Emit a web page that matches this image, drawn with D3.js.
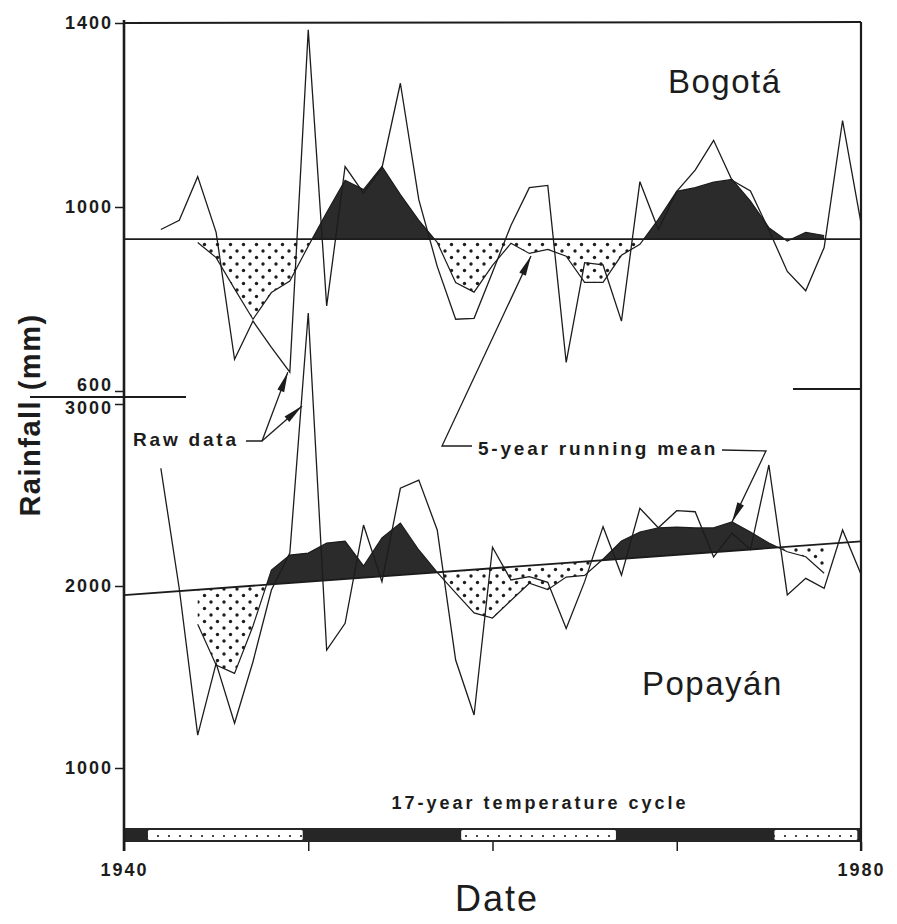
<!DOCTYPE html>
<html>
<head>
<meta charset="utf-8">
<script src="https://cdn.jsdelivr.net/npm/d3@7"></script>
<style>
  body { margin: 0; background: #fff; }
  text { font-family: "Liberation Sans", Arial, sans-serif; fill: #1c1c1c; }
</style>
</head>
<body>
<script>
// annual rainfall (mm)
const rawYears = d3.range(1942, 1981)
const meanYears = d3.range(1944, 1979)

const bogotaRaw = [951, 971, 1066, 945, 669, 752, 695, 641, 1385, 785,
  1088, 1030, 1085, 1269, 1016, 871, 756, 758, 858, 960,
  1042, 1047, 662, 879, 874, 752, 1055, 951, 1034, 1080,
  1145, 1058, 1035, 950, 860, 818, 912, 1188, 965]
const bogotaMean = [923, 890, 822, 756, 814, 839, 915, 988, 1058, 1038,
  1088, 1027, 971, 923, 836, 815, 873, 921, 899, 908,
  893, 836, 836, 895, 919, 973, 1034, 1042, 1054, 1060,
  1013, 955, 926, 945, 938]
const bogotaAverage = 930

const popayanRaw = [2647, 1985, 1181, 1575, 1246, 1584, 1978, 2181, 3500, 1648,
  1795, 2335, 2024, 2537, 2582, 2308, 1593, 1291, 2213, 2033,
  2051, 2020, 1767, 2024, 2326, 2060, 2427, 2320, 2414, 2408,
  2160, 2290, 2200, 2665, 1951, 2042, 1987, 2308, 2065]
const popayanMean = [1790, 1566, 1520, 1780, 2088, 2170, 2181, 2236, 2247, 2110,
  2264, 2346, 2198, 2075, 1962, 1852, 1824, 1920, 2015, 1980,
  2049, 2058, 2148, 2247, 2297, 2319, 2324, 2319, 2319, 2352,
  2297, 2236, 2188, 2161, 2070]
const popayanTrend = [1950, 2245]   // trend value at 1940 and 1980

// warm halves of the 17-year temperature cycle (start year)
const warmStarts = [1941.3, 1958.3, 1975.3]
const warmLength = 8.4

const bogotaTicks = [600, 1000, 1400]
const popayanTicks = [1000, 2000, 3000]
const yearTicks = [1940, 1950, 1960, 1970, 1980]

const width = 897, height = 924
const ink = '#1c1c1c'

const x = d3.scaleLinear().domain([1940, 1980]).range([124, 861])
const yB = d3.scaleLinear().domain([600, 1400]).range([391, 23])
const yP = d3.scaleLinear().domain([1000, 3000]).range([768, 404])
const trend = d3.scaleLinear().domain([1940, 1980]).range(popayanTrend)

const svg = d3.select('body').append('svg')
    .attr('width', width)
    .attr('height', height)
const defs = svg.append('defs')

// dotted fill for below-average years
const dots = defs.append('pattern')
    .attr('id', 'dots')
    .attr('patternUnits', 'userSpaceOnUse')
    .attr('width', 13).attr('height', 13)
dots.append('rect').attr('width', 13).attr('height', 13).attr('fill', '#fff')
dots.append('circle').attr('cx', 3).attr('cy', 4).attr('r', 1.7).attr('fill', ink)
dots.append('circle').attr('cx', 9.5).attr('cy', 10.5).attr('r', 1.7).attr('fill', ink)

const fine = defs.append('pattern')
    .attr('id', 'fine')
    .attr('patternUnits', 'userSpaceOnUse')
    .attr('width', 11).attr('height', 10)
fine.append('rect').attr('width', 11).attr('height', 10).attr('fill', '#fff')
fine.append('circle').attr('cx', 4).attr('cy', 6).attr('r', 1.1).attr('fill', ink)

function clip(id, pts) {
  defs.append('clipPath').attr('id', id)
    .append('polygon')
    .attr('points', pts.map(p => p.join(',')).join(' '))
}

function panel(raw, mean, base, y, top, bottom, id) {
  const g = svg.append('g')
  const x0 = x.range()[0], x1 = x.range()[1]
  clip(id + '-up', [[x0, top], [x1, top], [x1, y(base(1980))], [x0, y(base(1940))]])
  clip(id + '-dn', [[x0, y(base(1940))], [x1, y(base(1980))], [x1, bottom], [x0, bottom]])

  const m = meanYears.map((yr, i) => ({yr: yr, v: mean[i]}))
  const r = rawYears.map((yr, i) => ({yr: yr, v: raw[i]}))

  const area = d3.area()
      .x(d => x(d.yr))
      .y0(d => y(base(d.yr)))
      .y1(d => y(d.v))
  g.append('path').datum(m)
      .attr('d', area)
      .attr('fill', '#2b2b2b')
      .attr('clip-path', `url(#${id}-up)`)
  g.append('path').datum(m)
      .attr('d', area)
      .attr('fill', 'url(#dots)')
      .attr('clip-path', `url(#${id}-dn)`)

  const line = d3.line().x(d => x(d.yr)).y(d => y(d.v))
  g.append('path').datum(m)
      .attr('d', line)
      .attr('fill', 'none').attr('stroke', ink).attr('stroke-width', 1.2)

  // long-term average / trend
  g.append('line')
      .attr('x1', x(1940)).attr('x2', x(1980))
      .attr('y1', y(base(1940))).attr('y2', y(base(1980)))
      .attr('stroke', ink).attr('stroke-width', 1.8)

  g.append('path').datum(r)
      .attr('d', line)
      .attr('fill', 'none').attr('stroke', ink).attr('stroke-width', 1.3)
      .attr('stroke-linejoin', 'miter')
}

panel(bogotaRaw, bogotaMean, () => bogotaAverage, yB, 24, 395, 'bog')
panel(popayanRaw, popayanMean, trend, yP, 400, 790, 'pop')

// temperature cycle bar
const barTop = 828, barBottom = 842
svg.append('rect')
    .attr('x', x(1940)).attr('y', barTop)
    .attr('width', x(1980) - x(1940)).attr('height', barBottom - barTop)
    .attr('fill', '#262626')
svg.selectAll('.warm')
  .data(warmStarts)
  .enter().append('rect')
    .attr('class', 'warm')
    .attr('x', d => x(d))
    .attr('y', barTop + 2)
    .attr('width', d => x(Math.min(d + warmLength, 1979.8)) - x(d))
    .attr('height', barBottom - barTop - 4)
    .attr('fill', 'url(#fine)')
    .attr('rx', 1.5)

// frame
svg.append('line').attr('x1', x(1940)).attr('x2', x(1980)).attr('y1', 23).attr('y2', 22)
    .attr('stroke', ink).attr('stroke-width', 2)
svg.append('line').attr('x1', x(1940)).attr('x2', x(1940)).attr('y1', 20).attr('y2', 851)
    .attr('stroke', ink).attr('stroke-width', 2.6)
svg.append('line').attr('x1', x(1980)).attr('x2', x(1980)).attr('y1', 22).attr('y2', 851)
    .attr('stroke', ink).attr('stroke-width', 2.2)
// scale break marks
svg.append('line').attr('x1', 30).attr('x2', 186).attr('y1', 397).attr('y2', 397)
    .attr('stroke', ink).attr('stroke-width', 2)
svg.append('line').attr('x1', 793).attr('x2', x(1980)).attr('y1', 389).attr('y2', 389)
    .attr('stroke', ink).attr('stroke-width', 2)

function styleAxis(sel) {
  sel.select('.domain').remove()
  sel.selectAll('line').attr('stroke', ink).attr('stroke-width', 1.5)
  sel.selectAll('text')
      .attr('fill', ink)
      .style('font-family', '"Liberation Sans", Arial, sans-serif')
      .style('font-size', '18px')
      .style('font-weight', 'bold')
      .style('letter-spacing', '2px')
}

svg.append('g').attr('transform', `translate(${x(1940)},0)`)
    .call(d3.axisLeft(yB).tickValues(bogotaTicks).tickSize(9).tickPadding(2).tickFormat(d3.format('d')))
    .call(styleAxis)
    .selectAll('.tick text').filter(d => d === 600).attr('dy', '-0.05em')
svg.append('g').attr('transform', `translate(${x(1940)},0)`)
    .call(d3.axisLeft(yP).tickValues(popayanTicks).tickSize(9).tickPadding(2).tickFormat(d3.format('d')))
    .call(styleAxis)
    .selectAll('.tick text').filter(d => d === 3000).attr('dy', '0.55em')
svg.append('g').attr('transform', `translate(0,${barBottom})`)
    .call(d3.axisBottom(x).tickValues(yearTicks).tickSize(9).tickPadding(12)
      .tickFormat(d => (d === 1940 || d === 1980) ? d : ''))
    .call(styleAxis)

// labels
svg.append('text').attr('x', 668).attr('y', 93)
    .style('font-size', '33px').style('letter-spacing', '1.5px').text('Bogotá')
svg.append('text').attr('x', 642).attr('y', 695)
    .style('font-size', '33px').style('letter-spacing', '1.5px').text('Popayán')
svg.append('text').attr('x', 540).attr('y', 809).attr('text-anchor', 'middle')
    .style('font-size', '18px').style('font-weight', 'bold').style('letter-spacing', '3px')
    .text('17-year temperature cycle')
svg.append('text').attr('transform', 'translate(40,415) rotate(-90)').attr('text-anchor', 'middle')
    .style('font-size', '29px').style('font-weight', 'bold').style('letter-spacing', '1.5px')
    .text('Rainfall (mm)')
svg.append('text').attr('x', 497).attr('y', 911).attr('text-anchor', 'middle')
    .style('font-size', '36px').style('letter-spacing', '2px').text('Date')

const noteStyle = s => s.style('font-size', '19px').style('font-weight', 'bold').style('letter-spacing', '2.8px')
svg.append('text').attr('x', 133).attr('y', 446).call(noteStyle).text('Raw data')
svg.append('text').attr('x', 478).attr('y', 455).call(noteStyle).text('5-year running mean')

// leader lines with narrow arrowheads
function arrow(pts) {
  svg.append('path')
      .attr('d', d3.line()(pts))
      .attr('fill', 'none').attr('stroke', ink).attr('stroke-width', 1.3)
  const [ax, ay] = pts[pts.length - 2], [bx, by] = pts[pts.length - 1]
  const len = Math.hypot(bx - ax, by - ay), ux = (bx - ax) / len, uy = (by - ay) / len
  const hl = 20, hw = 3.6
  svg.append('path')
      .attr('d', d3.line()([[bx, by],
        [bx - ux * hl - uy * hw, by - uy * hl + ux * hw],
        [bx - ux * hl + uy * hw, by - uy * hl - ux * hw]]) + 'Z')
      .attr('fill', ink)
}

const rawIdx = yr => rawYears.indexOf(yr)
const meanIdx = yr => meanYears.indexOf(yr)
arrow([[246, 441], [262, 441], [x(1949) - 2, yB(bogotaRaw[rawIdx(1949)])]])
arrow([[262, 441], [302, 406]])
arrow([[472, 446], [442, 446], [531, 256]])
arrow([[722, 450], [766, 451], [x(1973), yP(popayanMean[meanIdx(1973)])]])
</script>
</body>
</html>
